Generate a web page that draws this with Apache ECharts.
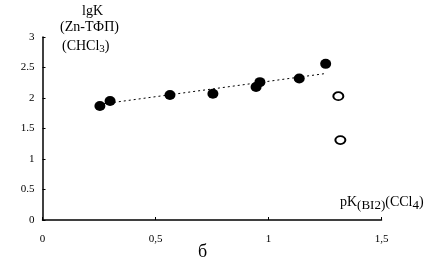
<!DOCTYPE html>
<html>
<head>
<meta charset="utf-8">
<script src="https://cdn.jsdelivr.net/npm/echarts@6/dist/echarts.min.js"></script>
<style>
  html, body { margin: 0; padding: 0; background: #fff; }
  #main { width: 436px; height: 261px; }
</style>
</head>
<body>
<div id="main"></div>
<script>
// filled points (Zn-TPP in CHCl3)
const filledX = [0.254, 0.299, 0.564, 0.754, 0.945, 0.962, 1.136, 1.253];
const filledY = [1.87, 1.95, 2.05, 2.07, 2.18, 2.26, 2.32, 2.56];
// open points
const openX = [1.309, 1.318];
const openY = [2.03, 1.31];
// dotted trend line ends
const trendX = [0.25, 1.25];
const trendY = [1.895, 2.40];
const yTicks = ['0', '0.5', '1', '1.5', '2', '2.5', '3'];
const xTicks = ['0', '0,5', '1', '1,5'];

const font = '"Liberation Serif", "DejaVu Serif", serif';
const pair = (xs, ys) => xs.map((x, i) => [x, ys[i]]);

const myChart = echarts.init(document.getElementById('main'));
const options = {
  animation: false,
  grid: { left: 42.5, right: 54.5, top: 37, bottom: 41 },
  xAxis: {
    type: 'value', min: 0, max: 1.5, interval: 0.5,
    axisLine: { lineStyle: { color: '#000', width: 1.5 } },
    axisTick: { show: true, inside: true, length: 3, lineStyle: { color: '#000' } },
    splitLine: { show: false },
    axisLabel: {
      color: '#000', fontFamily: font, fontSize: 11, margin: 14,
      formatter: (v) => xTicks[Math.round(v / 0.5)]
    }
  },
  yAxis: {
    type: 'value', min: 0, max: 3, interval: 0.5,
    axisLine: { show: true, lineStyle: { color: '#000', width: 1.5 } },
    axisTick: { show: true, inside: true, length: 3, lineStyle: { color: '#000' } },
    splitLine: { show: false },
    axisLabel: {
      color: '#000', fontFamily: font, fontSize: 11, margin: 8,
      formatter: (v) => yTicks[Math.round(v / 0.5)]
    }
  },
  graphic: [
    { type: 'text', left: 82, top: 4, style: { text: 'lgK', font: '14px ' + font, fill: '#000' } },
    { type: 'text', left: 60, top: 20, style: { text: '(Zn-ТФП)', font: '14px ' + font, fill: '#000' } },
    { type: 'text', left: 62, top: 39, style: {
      text: '{n|(CHCl}{s|3}{n|)}',
      rich: {
        n: { fontFamily: font, fontSize: 14, fill: '#000' },
        s: { fontFamily: font, fontSize: 11, fill: '#000', padding: [6, 0, 0, 0] }
      }
    } },
    { type: 'text', left: 340, top: 195, style: {
      text: '{n|pK}{s|(BI2)}{n|(CCl}{s|4}{n|)}',
      rich: {
        n: { fontFamily: font, fontSize: 14, fill: '#000' },
        s: { fontFamily: font, fontSize: 13, fill: '#000', padding: [8, 0, 0, 0] }
      }
    } },
    { type: 'text', left: 198, top: 243, style: { text: 'б', font: '18px ' + font, fill: '#000' } }
  ],
  series: [
    {
      type: 'line', data: pair(trendX, trendY), symbol: 'none',
      lineStyle: { color: '#000', width: 1, type: [2, 3] }, z: 1
    },
    {
      type: 'scatter', data: pair(filledX, filledY), symbol: 'circle', symbolSize: [11, 10],
      itemStyle: { color: '#000', opacity: 1 }, z: 3
    },
    {
      type: 'scatter', data: pair(openX, openY), symbol: 'circle', symbolSize: [10, 8],
      itemStyle: { color: '#fff', borderColor: '#000', borderWidth: 1.8, opacity: 1 }, z: 3
    }
  ]
};
myChart.setOption(options);
</script>
</body>
</html>
